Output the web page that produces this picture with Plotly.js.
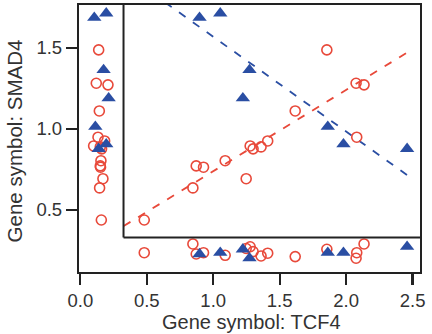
<!DOCTYPE html>
<html>
<head>
<meta charset="utf-8">
<script src="https://cdn.plot.ly/plotly-3.0.1.min.js"></script>
<style>html,body{margin:0;padding:0;background:#fff;}#chart{width:432px;height:334px;}</style>
</head>
<body>
<div id="chart"></div>
<script>
// Red open circles (main panel): TCF4 vs SMAD4
const redX = [1.855, 2.075, 2.135, 1.617, 2.08, 1.278, 1.30, 1.36, 1.41, 1.09, 0.872, 0.927, 1.248, 0.847, 0.481];
const redY = [1.488, 1.282, 1.272, 1.111, 0.949, 0.895, 0.877, 0.889, 0.926, 0.804, 0.772, 0.764, 0.693, 0.636, 0.438];
// marginal (projected) positions for red points
const redLeftX   = [0.138, 0.12, 0.208, 0.143, 0.133, 0.10, 0.16, 0.15, 0.183, 0.155, 0.15, 0.152, 0.17, 0.145, 0.158];
const redBottomY = [0.257, 0.202, 0.29, 0.212, 0.236, 0.273, 0.243, 0.216, 0.233, 0.22, 0.228, 0.236, 0.262, 0.29, 0.236];

// Blue filled triangles (main panel)
const blueX = [0.897, 1.053, 1.273, 1.223, 1.862, 1.98, 2.459];
const blueY = [1.687, 1.714, 1.364, 1.19, 1.014, 0.906, 0.877];
const blueLeftX   = [0.105, 0.195, 0.175, 0.213, 0.113, 0.195, 0.138];
const blueBottomY = [0.228, 0.236, 0.202, 0.257, 0.236, 0.236, 0.273];

// Regression lines: [intercept, slope], x-extent
const redFit = [0.237, 0.502];
const blueFit = [2.154, -0.585];
const fitXRange = [0.326, 2.48];

// Tick labels and titles
const xTicks = [0, 0.5, 1.0, 1.5, 2.0, 2.5];
const xTickText = ["0.0", "0.5", "1.0", "1.5", "2.0", "2.5"];
const yTicks = [0.5, 1.0, 1.5];
const yTickText = ["0.5", "1.0", "1.5"];
const xTitle = "Gene symbol: TCF4";
const yTitle = "Gene symbol: SMAD4";

const RED = "#E8493A";
const BLUE = "#2A4EA3";
const XR = [-0.01, 2.556];
const YR = [0.117, 1.765];
const innerX = 0.325, innerY = 0.33;

const redMarker = {symbol: "circle-open", size: 10, color: RED, line: {width: 1.6, color: RED}};
const blueMarker = {symbol: "triangle-up", size: 12.5, color: BLUE, line: {width: 0}};

function fitLine(p) { return fitXRange.map(x => p[0] + p[1] * x); }

const traces = [
  {x: fitXRange, y: fitLine(redFit), mode: "lines", line: {color: RED, width: 1.8, dash: "8px,9px"}, hoverinfo: "skip"},
  {x: fitXRange, y: fitLine(blueFit), mode: "lines", line: {color: BLUE, width: 1.8, dash: "8px,9px"}, hoverinfo: "skip"},
  {x: redX, y: redY, mode: "markers", marker: redMarker},
  {x: redLeftX, y: redY, mode: "markers", marker: redMarker},
  {x: redX, y: redBottomY, mode: "markers", marker: redMarker},
  {x: blueX, y: blueY, mode: "markers", marker: blueMarker},
  {x: blueLeftX, y: blueY, mode: "markers", marker: blueMarker},
  {x: blueX, y: blueBottomY, mode: "markers", marker: blueMarker}
];

const FONT = "Liberation Sans, Arial, sans-serif";
const axisCommon = {
  showgrid: false, zeroline: false, showline: true, mirror: true,
  linecolor: "#222", linewidth: 2.2, ticks: "outside", ticklen: 11, tickwidth: 2.2, tickcolor: "#222",
  tickfont: {family: FONT, size: 18.5, color: "#333"}
};

const layout = {
  width: 432, height: 334,
  margin: {l: 79, r: 12, t: 5, b: 62},
  paper_bgcolor: "#fff", plot_bgcolor: "#fff",
  showlegend: false,
  font: {family: FONT, color: "#333"},
  xaxis: Object.assign({}, axisCommon, {range: XR, tickvals: xTicks, ticktext: xTickText}),
  yaxis: Object.assign({}, axisCommon, {range: YR, tickvals: yTicks, ticktext: yTickText}),
  annotations: [
    {text: xTitle, xref: "paper", yref: "paper", x: 0.505, y: -0.186, xanchor: "center", yanchor: "middle",
     showarrow: false, font: {family: FONT, size: 20, color: "#333"}},
    {text: yTitle, xref: "paper", yref: "paper", x: -0.19, y: 0.49, xanchor: "center", yanchor: "middle",
     textangle: -90, showarrow: false, font: {family: FONT, size: 20.5, color: "#333"}}
  ],
  shapes: [
    {type: "line", xref: "x", yref: "y", x0: innerX, x1: innerX, y0: innerY, y1: YR[1], line: {color: "#222", width: 2}},
    {type: "line", xref: "x", yref: "y", x0: innerX, x1: XR[1], y0: innerY, y1: innerY, line: {color: "#222", width: 2}}
  ]
};

Plotly.newPlot("chart", traces, layout, {staticPlot: true, displayModeBar: false});
</script>
</body>
</html>
